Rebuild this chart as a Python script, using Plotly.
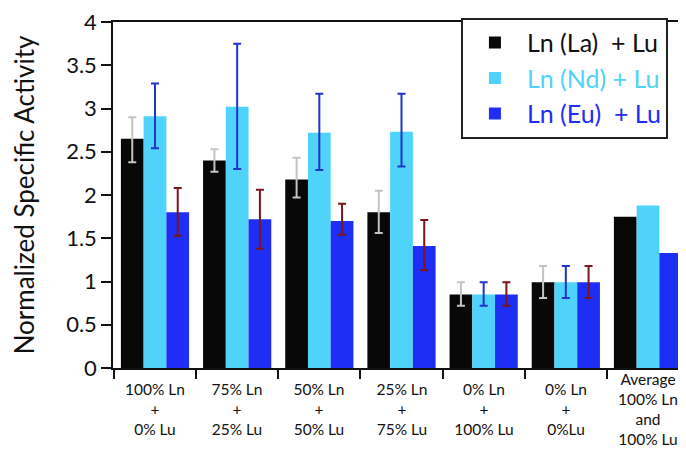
import plotly.graph_objects as go

categories = ["100% Ln<br>+<br>0% Lu", "75% Ln<br>+<br>25% Lu", "50% Ln<br>+<br>50% Lu",
              "25% Ln<br>+<br>75% Lu", "0% Ln<br>+<br>100% Lu", "0% Ln<br>+<br>0%Lu",
              "Average<br>100% Ln<br>and<br>100% Lu"]
cat_keys = ["c1", "c2", "c3", "c4", "c5", "c6", "c7"]

# measured groups (with error bars) are the first six; the last is an average (no error bars)
la_vals = [2.65, 2.40, 2.18, 1.80, 0.85, 0.99, 1.75]
la_plus = [0.25, 0.13, 0.25, 0.25, 0.14, 0.19]
la_minus = [0.27, 0.13, 0.21, 0.24, 0.13, 0.18]

nd_vals = [2.91, 3.02, 2.72, 2.73, 0.85, 0.99, 1.88]
nd_plus = [0.38, 0.73, 0.45, 0.44, 0.14, 0.19]
nd_minus = [0.37, 0.72, 0.43, 0.40, 0.13, 0.18]

eu_vals = [1.80, 1.72, 1.70, 1.41, 0.85, 0.99, 1.33]
eu_plus = [0.28, 0.34, 0.20, 0.30, 0.14, 0.19]
eu_minus = [0.27, 0.34, 0.16, 0.28, 0.13, 0.18]

y_ticks = [0, 0.5, 1, 1.5, 2, 2.5, 3, 3.5, 4]
y_tick_text = ["0", "0.5", "1", "1.5", "2", "2.5", "3", "3.5", "4"]

series = [
    ("la", "Ln (La)  + Lu", la_vals, la_plus, la_minus, "#080808", "#c4c4c4", "#111111"),
    ("nd", "Ln (Nd) + Lu", nd_vals, nd_plus, nd_minus, "#4fd3fb", "#2233cc", "#4fd3fb"),
    ("eu", "Ln (Eu)  + Lu", eu_vals, eu_plus, eu_minus, "#1f2ef5", "#7a1518", "#1f2ef5"),
]

FONT = "Lato"
fig = go.Figure()
for key, name, vals, plus, minus, color, ecolor, tcolor in series:
    n_err = len(plus)
    fig.add_trace(go.Bar(
        x=cat_keys[:n_err], y=vals[:n_err], name=f"<span style='color:{tcolor}'>{name}</span>",
        offsetgroup=key, legendgroup=key,
        marker=dict(color=color, line=dict(width=0)),
        error_y=dict(type="data", array=plus, arrayminus=minus, symmetric=False,
                     color=ecolor, thickness=2, width=4),
    ))
    fig.add_trace(go.Bar(
        x=cat_keys[n_err:], y=vals[n_err:], name=name, showlegend=False,
        offsetgroup=key, legendgroup=key,
        marker=dict(color=color, line=dict(width=0)),
    ))

for key, label in zip(cat_keys, categories):
    fig.add_annotation(x=key, xref="x", y=0, yref="paper", yanchor="middle",
                       xanchor="center", align="center", width=80,
                       yshift=-41, text=label, showarrow=False,
                       font=dict(family=FONT, size=15.5, color="#111111"))

fig.update_layout(
    width=686, height=449,
    margin=dict(l=105, r=4, t=14, b=89, autoexpand=False),
    paper_bgcolor="white", plot_bgcolor="white",
    barmode="group", bargap=0.17, bargroupgap=0,
    font=dict(family=FONT, color="#111111"),
    legend=dict(x=0.603, y=1.012, xanchor="left", yanchor="top",
                bgcolor="white", bordercolor="#222222", borderwidth=2,
                font=dict(family=FONT, size=25), tracegroupgap=0,
                itemwidth=54),
    showlegend=True,
)
fig.update_xaxes(type="category", categoryorder="array", categoryarray=cat_keys,
                 showticklabels=False, ticks="outside", tickson="boundaries",
                 ticklen=9, tickcolor="#111111", tickwidth=1.5,
                 showline=True, linecolor="#111111", linewidth=1.5, mirror=True,
                 showgrid=False)
fig.update_yaxes(range=[0, 4.0001], tickvals=y_ticks, ticktext=y_tick_text,
                 ticks="outside", ticklen=10, ticklabeloverflow="allow",
                 tickcolor="#111111", tickwidth=1.5,
                 showline=True, linecolor="#111111", linewidth=1.5, mirror=True,
                 showgrid=False, zeroline=False,
                 tickfont=dict(family=FONT, size=22, color="#111111"),
                 title=dict(text="Normalized Specific Activity",
                            font=dict(family=FONT, size=26, color="#111111"), standoff=36))

fig.write_html("out.html")
